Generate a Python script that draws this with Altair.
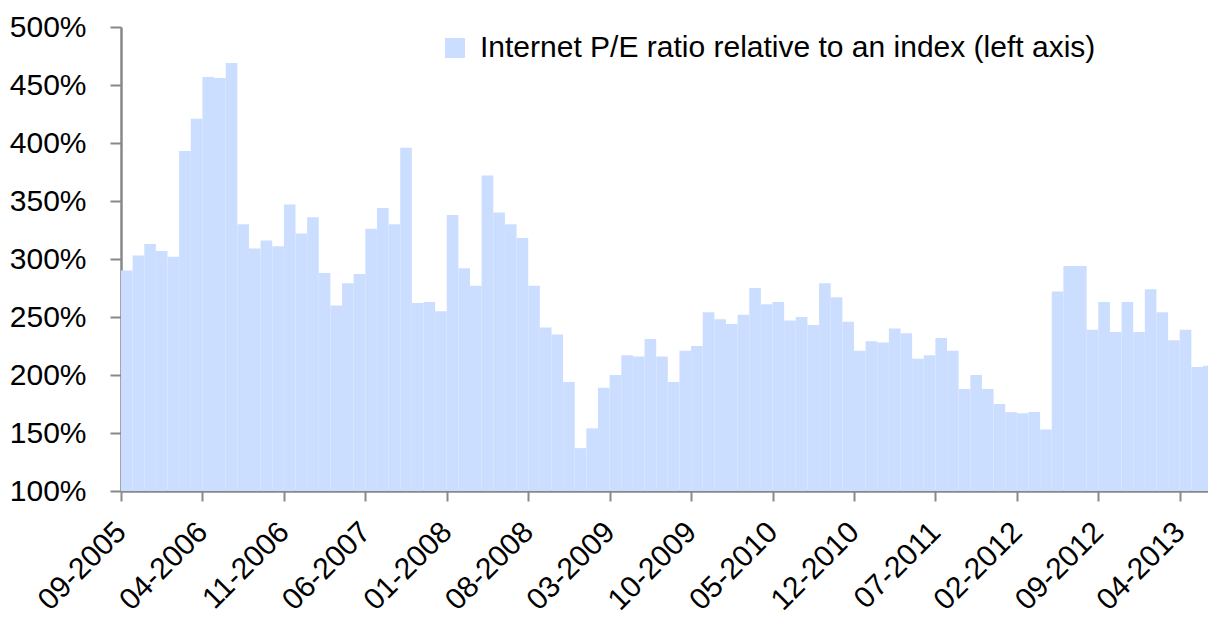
import altair as alt
import pandas as pd

# Monthly P/E ratio relative to index (in %), starting 09-2005
start_year = 2005
start_month = 9
values = [
    290, 303, 313, 307, 302, 393, 421, 457, 456, 469,
    330, 309, 316, 311, 347, 322, 336, 288, 260, 279,
    287, 326, 344, 330, 396, 262, 263, 255, 338, 292,
    277, 372, 340, 330, 318, 277, 241, 235, 194, 137,
    154, 189, 200, 217, 216, 231, 216, 194, 221, 225,
    254, 248, 244, 252, 275, 261, 263, 247, 250, 243,
    279, 267, 246, 221, 229, 228, 240, 236, 214, 217,
    232, 221, 188, 200, 188, 175, 168, 167, 168, 153,
    272, 294, 294, 239, 263, 237, 263, 237, 274, 254,
    230, 239, 207, 208, 232,
]
tick_labels = [
    "09-2005", "04-2006", "11-2006", "06-2007", "01-2008", "08-2008", "03-2009",
    "10-2009", "05-2010", "12-2010", "07-2011", "02-2012", "09-2012", "04-2013",
]
y_ticks = [100, 150, 200, 250, 300, 350, 400, 450, 500]
series_name = "Internet P/E ratio relative to an index (left axis)"

months = []
for i in range(len(values)):
    m = start_month - 1 + i
    months.append(f"{m % 12 + 1:02d}-{start_year + m // 12}")

df = pd.DataFrame({
    "idx": list(range(len(values))),
    "idx2": [i + 1 for i in range(len(values))],
    "month": months,
    "value": values,
    "base": [100] * len(values),
    "series": [series_name] * len(values),
})

FONT = "Liberation Sans"
tick_pos = [7 * k for k in range(len(tick_labels))]
label_arr = "[" + ",".join(f"'{t}'" for t in tick_labels) + "]"

chart = alt.Chart(df).mark_rect(clip=True).encode(
    x=alt.X("idx:Q",
            scale=alt.Scale(domain=[0, 93.43], nice=False, zero=False),
            axis=alt.Axis(values=tick_pos, labelExpr=f"{label_arr}[round(datum.value/7)]",
                          labelAngle=-45, labelAlign="right", labelBaseline="middle",
                          labelPadding=26, tickSize=10, title=None, grid=False,
                          labelFontSize=30, labelFont=FONT, labelColor="#000000",
                          domainColor="#888888", domainWidth=2.5,
                          tickColor="#888888", tickWidth=2, labelOverlap=False)),
    x2="idx2:Q",
    y=alt.Y("value:Q",
            scale=alt.Scale(domain=[100, 500], nice=False, zero=False),
            axis=alt.Axis(values=y_ticks, labelExpr="datum.value + '%'",
                          labelPadding=24, tickSize=11, title=None, grid=False,
                          labelFontSize=30, labelFont=FONT, labelColor="#000000",
                          domainColor="#888888", domainWidth=2.5,
                          tickColor="#888888", tickWidth=2)),
    y2="base:Q",
    color=alt.Color("series:N",
                    scale=alt.Scale(range=["#CCDEFF"]),
                    legend=alt.Legend(orient="none", legendX=319, legendY=6, title=None,
                                      symbolType="square", symbolSize=400,
                                      symbolStrokeWidth=0, labelOffset=10,
                                      labelFontSize=30, labelFont=FONT,
                                      labelColor="#000000", padding=0,
                                      labelLimit=1000)),
).properties(
    width=1087,
    height=464,
    autosize=alt.AutoSizeParams(type="none"),
    padding={"left": 113, "top": 19, "right": 0, "bottom": 127},
).configure_view(stroke=None)

chart.save("out.html", embed_options={"renderer": "svg", "actions": False})
